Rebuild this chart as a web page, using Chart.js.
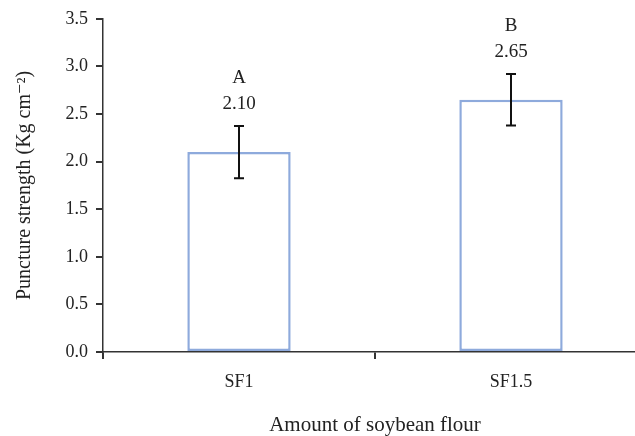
<!DOCTYPE html>
<html>
<head>
<meta charset="utf-8">
<script src="https://cdn.jsdelivr.net/npm/chart.js@4"></script>
<style>
    html, body { margin: 0; padding: 0; background: #fff; overflow: hidden; }
    #wrap { width: 660px; height: 436px; }
</style>
</head>
<body>
<div id="wrap"><canvas id="chart" width="660" height="436"></canvas></div>
<script>
// Data
const categories = ["SF1", "SF1.5"];
const meanValues = [2.10, 2.65];
const errorValues = [0.275, 0.27];
const groupLetters = ["A", "B"];
const yTicks = [0, 0.5, 1.0, 1.5, 2.0, 2.5, 3.0, 3.5];

const FONT = "'Liberation Serif', 'DejaVu Serif', serif";
const INK = "#222";

// error bars + letters above each bar
const errorBarPlugin = {
    id: "errorBars",
    afterDatasetsDraw(chart) {
        const ctx = chart.ctx;
        const meta = chart.getDatasetMeta(0);
        const y = chart.scales.y;
        ctx.save();
        meta.data.forEach((bar, i) => {
            const top = y.getPixelForValue(meanValues[i] + errorValues[i]);
            const bot = y.getPixelForValue(meanValues[i] - errorValues[i]);
            const x = bar.x;
            ctx.strokeStyle = "#111";
            ctx.lineWidth = 2;
            ctx.beginPath();
            ctx.moveTo(x, top); ctx.lineTo(x, bot);
            ctx.moveTo(x - 5, top); ctx.lineTo(x + 5, top);
            ctx.moveTo(x - 5, bot); ctx.lineTo(x + 5, bot);
            ctx.stroke();

            ctx.fillStyle = INK;
            ctx.font = "19px " + FONT;
            ctx.textAlign = "center";
            ctx.textBaseline = "middle";
            ctx.fillText(meanValues[i].toFixed(2), x, top - 22);
            ctx.fillText(groupLetters[i], x, top - 48);
        });
        ctx.restore();
    }
};

new Chart(document.getElementById("chart"), {
    type: "bar",
    data: {
        labels: categories,
        datasets: [{
            data: meanValues,
            backgroundColor: "#ffffff",
            borderColor: "#8eaadc",
            borderWidth: 2.5,
            borderSkipped: false,
            barPercentage: 0.38,
            categoryPercentage: 1.0
        }]
    },
    options: {
        responsive: false,
        animation: false,
        layout: { padding: { top: 15, right: 13, left: 0, bottom: 0 } },
        plugins: {
            legend: { display: false },
            tooltip: { enabled: false }
        },
        scales: {
            x: {
                offset: true,
                grid: { offset: true, drawOnChartArea: false, drawTicks: true, tickLength: 7, color: "#333", lineWidth: 2 },
                border: { color: "#333", width: 1.5 },
                ticks: { color: INK, font: { family: FONT, size: 18 }, padding: 12 },
                title: {
                    display: true,
                    text: "Amount of soybean flour",
                    color: INK,
                    font: { family: FONT, size: 21 },
                    padding: { top: 26, bottom: -2 }
                },
                afterFit(scale) { scale.height = 84; }
            },
            y: {
                min: 0,
                max: 3.5,
                afterBuildTicks(scale) { scale.ticks = yTicks.map(v => ({ value: v })); },
                grid: { drawOnChartArea: false, drawTicks: true, tickLength: 7, color: "#333", lineWidth: 2 },
                border: { color: "#333", width: 1.5 },
                ticks: {
                    color: INK,
                    font: { family: FONT, size: 18 },
                    padding: 8,
                    callback: v => Number(v).toFixed(1)
                },
                title: {
                    display: true,
                    text: "Puncture strength (Kg cm\u207B\u00B2)",
                    color: INK,
                    font: { family: FONT, size: 20 },
                    padding: { top: 13, bottom: 4 }
                },
                afterFit(scale) { scale.width = 103; }
            }
        }
    },
    plugins: [errorBarPlugin]
});
</script>
</body>
</html>
